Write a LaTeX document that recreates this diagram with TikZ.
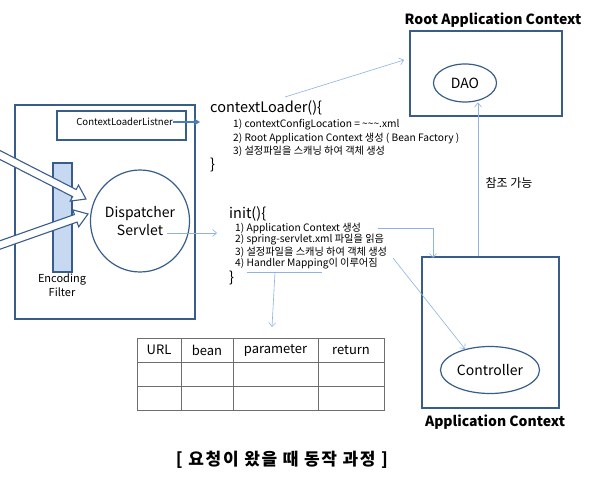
\documentclass[tikz,border=0pt]{standalone}
\usepackage{fontspec}
\setmainfont{Noto Sans CJK KR}
\usetikzlibrary{shapes.geometric,arrows.meta,calc}
\definecolor{boxblue}{RGB}{56,93,138}
\definecolor{lineblue}{RGB}{141,179,226}
\definecolor{filterfill}{RGB}{198,217,241}
\definecolor{arrowblue}{RGB}{74,126,187}
\definecolor{tablegray}{RGB}{110,110,110}
\tikzset{
  bluebox/.style={draw=boxblue, line width=1.2pt, inner sep=0pt},
  blueell/.style={ellipse, draw=boxblue, line width=1.2pt, inner sep=0pt},
  hollowarrow/.style={draw=boxblue, fill=white, line width=1.1pt, line join=miter},
  thinarrow/.style={draw=lineblue, line width=0.6pt, -{Straight Barb[length=4pt,width=7pt]}},
  thinline/.style={draw=lineblue, line width=0.6pt},
  codehead/.style={anchor=west, font=\fontsize{14.5}{16}\selectfont, inner sep=0pt},
  codeitem/.style={anchor=west, font=\fontsize{10.2}{11}\selectfont, inner sep=0pt},
  titletext/.style={font=\bfseries\fontsize{14}{16}\selectfont, inner sep=0pt},
  cellhead/.style={font=\fontsize{13}{15}\selectfont, inner sep=0pt}
}
\begin{document}
\begin{tikzpicture}[x=1pt,y=-1pt]
\useasboundingbox (0,0) rectangle (597,481);
\fill[white] (0,0) rectangle (597,481);

% main left box
\node[bluebox, minimum width=180pt, minimum height=214pt] (main) at (105,212) {};
\node[bluebox, minimum width=129pt, minimum height=29pt] (lbox) at (121.5,125.5) {};
\node[anchor=east, inner sep=0pt, font=\fontsize{9.6}{10}\selectfont] (ltext) at (173,122) {ContextLoaderListner};
\coordinate (lout) at (200,122);
\draw[arrowblue, line width=1.6pt, -{Stealth[length=6pt,width=7pt]}] (ltext.east) -- (lout);

% encoding filter
\node[draw=boxblue, fill=filterfill, line width=1.2pt, minimum width=19pt, minimum height=109pt, inner sep=0pt] (filter) at (62.5,217.5) {};
\node[align=center, inner sep=0pt, font=\fontsize{11}{14}\selectfont] (ftext) at (62,285) {Encoding\\Filter};

% hollow arrows
\begin{scope}[shift={(-10,149.9)}, rotate=-27.1]
\draw[hollowarrow] (0,-4) -- (94.8,-4) -- (94.8,-9) -- (107.8,0) -- (94.8,9) -- (94.8,4) -- (0,4) -- cycle;
\end{scope}
\begin{scope}[shift={(-10,248.5)}, rotate=19.4]
\draw[hollowarrow] (0,-4) -- (90.9,-4) -- (90.9,-9) -- (103.9,0) -- (90.9,9) -- (90.9,4) -- (0,4) -- cycle;
\end{scope}

% dispatcher servlet
\node[blueell, minimum width=81pt, minimum height=102pt, align=center, font=\fontsize{14}{18}\selectfont] (ds) at (140,221) {Dispatcher\\Servlet};

% contextLoader block
\node[codehead] (cl0) at (210,108) {contextLoader()\{};
\node[codeitem] (cl1) at (233,125) {1) contextConfigLocation = \textasciitilde\textasciitilde\textasciitilde.xml};
\node[codeitem] (cl2) at (233,138) {2) Root Application Context 생성 ( Bean Factory )};
\node[codeitem] (cl3) at (233,151) {3) 설정파일을 스캐닝 하여 객체 생성};
\node[codehead] (cl4) at (210,165) {\}};

% init block
\node[codehead] (in0) at (229,214) {init()\{};
\node[codeitem] (in1) at (235,228) {1) Application Context 생성};
\node[codeitem] (in2) at (235,240) {2) spring-servlet.xml 파일을 읽음};
\node[codeitem] (in3) at (235,252) {3) 설정파일을 스캐닝 하여 객체 생성};
\node[codeitem] (in4) at (235,264) {4) Handler Mapping이 이루어짐};
\node[codehead] (in5) at (229,278) {\}};

% root application context
\node[bluebox, minimum width=152pt, minimum height=85pt] (root) at (486,73.5) {};
\node[titletext] (roottitle) at (493,20) {Root Application Context};
\node[blueell, minimum width=63pt, minimum height=38pt, font=\fontsize{14}{16}\selectfont] (dao) at (465,83) {DAO};

% application context
\node[bluebox, minimum width=137pt, minimum height=151pt] (app) at (490.5,332.5) {};
\node[titletext] (apptitle) at (495,422) {Application Context};
\node[blueell, minimum width=99pt, minimum height=47pt, font=\fontsize{14}{16}\selectfont] (ctrl) at (490,370) {Controller};

% reference text
\node[inner sep=0pt, font=\fontsize{12}{13}\selectfont] (ref) at (509,183) {참조 가능};

% table
\node[draw=tablegray, line width=0.9pt, minimum width=247pt, minimum height=72pt, inner sep=0pt] (tbl) at (260.5,374) {};
\draw[tablegray, line width=0.9pt] (137,362) -- (384,362) (137,386) -- (384,386)
  (181,338) -- (181,410) (233,338) -- (233,410) (318,338) -- (318,410);
\node[cellhead] (hurl) at (159,350) {URL};
\node[cellhead] (hbean) at (207,350) {bean};
\node[cellhead] (hpar) at (275.5,350) {parameter};
\node[cellhead] (hret) at (351,350) {return};

% connectors
\coordinate (clstart) at (285,97);
\coordinate (rootin) at (404,60);
\draw[thinarrow] (clstart) -- (rootin);

\coordinate (dsout) at (167,233);
\coordinate (initin) at (217,233);
\draw[thinarrow] (dsout) -- (initin);

\coordinate (a1s) at (378,228);
\coordinate (a1e) at (433,258);
\draw[thinarrow] (a1s) -| (a1e);

\coordinate (a3s) at (393,258);
\draw[thinarrow] (a3s) -- (ctrl.140);

\coordinate (ul1) at (247,272);
\coordinate (ul2) at (322,272);
\draw[thinline] (ul1) -- (ul2);
\coordinate (ulmid) at (275,272);
\coordinate (tblin) at (272,327);
\draw[thinarrow] (ulmid) -- (tblin);

\coordinate (refx) at (478,0);
\draw[thinarrow] (app.north -| refx) -- (dao.south -| refx);

% caption
\node[inner sep=0pt, font=\bfseries\fontsize{17}{18}\selectfont\addfontfeatures{LetterSpace=10}] (cap) at (282,460) {[ 요청이 왔을 때 동작 과정 ]};
\end{tikzpicture}
\end{document}
